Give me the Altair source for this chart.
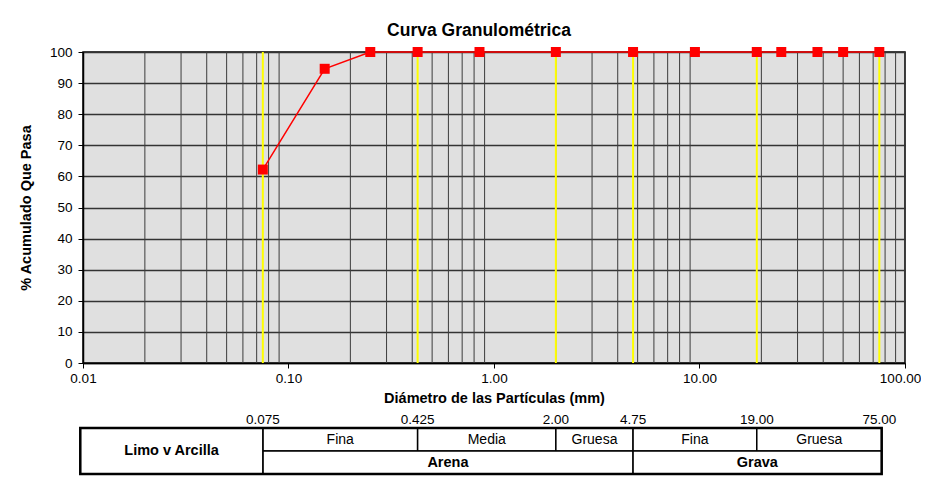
import math
import altair as alt
import pandas as pd

# ---------------- data ----------------
sieve_mm = [75, 50, 37.5, 25, 19, 9.5, 4.75, 2.0, 0.85, 0.425, 0.25, 0.15, 0.075]
passing = [100, 100, 100, 100, 100, 100, 100, 100, 100, 100, 100, 94.6, 62.2]

limits = [0.075, 0.425, 2.0, 4.75, 19.0, 75.0]
limit_labels = ["0.075", "0.425", "2.00", "4.75", "19.00", "75.00"]

x_ticks = [0.01, 0.1, 1, 10, 100]
y_ticks = list(range(0, 101, 10))
grid_x = [m * 10.0 ** k for k in range(-2, 2) for m in range(2, 10)]

sub_names = ["Fina", "Media", "Gruesa", "Fina", "Gruesa"]
sub_from = [0.075, 0.425, 2.0, 4.75, 19.0]
sub_to = [0.425, 2.0, 4.75, 19.0, 77.0]
group_names = ["Arena", "Grava"]
group_from = [0.075, 4.75]
group_to = [4.75, 77.0]
fine_name = ["Limo v Arcilla"]
fine_from = [0.0097]
fine_to = [0.075]

# table rows (in y-scale units, below the plot)
ROW_TOP, ROW_MID, ROW_BOT, LABEL_Y = -20.9, -28.3, -35.7, -18.2

FONT = "Liberation Sans"

xs = alt.Scale(type="log", domain=[0.01, 100], nice=False)
ys = alt.Scale(domain=[0, 100], nice=False, zero=False)
xaxis = alt.Axis(values=x_ticks, format=".2f", grid=False, tickSize=5,
                 labelPadding=3, labelFlush=False,
                 labelOffset={"condition": {"test": "datum.value >= 100",
                                            "value": -5}, "value": 0},
                 title="Diámetro de las Partículas (mm)", titlePadding=7)
yaxis = alt.Axis(values=y_ticks, grid=True, gridColor="#333333", gridWidth=1.5,
                 tickSize=5, labelPadding=6, title="% Acumulado Que Pasa",
                 titlePadding=16)


def X(f):
    return alt.X(f"{f}:Q", scale=xs, axis=xaxis)


def Y(f):
    return alt.Y(f"{f}:Q", scale=ys, axis=yaxis)


curve = pd.DataFrame({"d": sieve_mm, "p": passing})
grid_df = pd.DataFrame({"d": grid_x, "y0": 0, "y1": 100})
lim_df = pd.DataFrame({"d": limits, "y0": 0, "y1": 100, "lab": limit_labels,
                       "ly": LABEL_Y})

grid = alt.Chart(grid_df).mark_rule(color="#3c3c3c", strokeWidth=1).encode(
    x=X("d"), y=Y("y0"), y2="y1")
yellow = alt.Chart(lim_df).mark_rule(color="#ffff00", strokeWidth=2).encode(
    x=X("d"), y=Y("y0"), y2="y1")
line = alt.Chart(curve).mark_line(color="#ff0000", strokeWidth=1.5).encode(
    x=X("d"), y=Y("p"))
pts = alt.Chart(curve).mark_point(shape="square", filled=True, size=100,
                                  color="#ff0000", opacity=1).encode(
    x=X("d"), y=Y("p"))
lim_text = alt.Chart(lim_df).mark_text(font=FONT, fontSize=13.5, color="black",
                                       baseline="middle").encode(
    x=X("d"), y=Y("ly"), text="lab:N")

cells = pd.DataFrame({
    "name": sub_names + group_names + fine_name,
    "a": sub_from + group_from + fine_from,
    "b": sub_to + group_to + fine_to,
    "t": [ROW_TOP] * 5 + [ROW_MID] * 2 + [ROW_TOP],
    "u": [ROW_MID] * 5 + [ROW_BOT] * 2 + [ROW_BOT],
    "bold": [False] * 5 + [True] * 3,
})
cells["cx"] = [math.sqrt(a * b) for a, b in zip(cells["a"], cells["b"])]
cells["cy"] = (cells["t"] + cells["u"]) / 2

outer = pd.DataFrame({"a": [fine_from[0]], "b": [group_to[-1]],
                      "t": [ROW_TOP], "u": [ROW_BOT]})

rects = alt.Chart(cells).mark_rect(fill="white", stroke="black",
                                   strokeWidth=1.5).encode(
    x=X("a"), x2="b", y=Y("t"), y2="u")
frame = alt.Chart(outer).mark_rect(fill=None, stroke="black",
                                   strokeWidth=2.5, fillOpacity=0).encode(
    x=X("a"), x2="b", y=Y("t"), y2="u")
txt_reg = alt.Chart(cells[~cells["bold"]]).mark_text(
    font=FONT, fontSize=14, color="black", baseline="middle").encode(
    x=X("cx"), y=Y("cy"), text="name:N")
txt_bold = alt.Chart(cells[cells["bold"]]).mark_text(
    font=FONT, fontSize=14.5, fontWeight="bold", color="black",
    baseline="middle").encode(
    x=X("cx"), y=Y("cy"), text="name:N")

chart = alt.layer(grid, yellow, line, pts, lim_text, rects, frame,
                  txt_reg, txt_bold).properties(
    width=822, height=311,
    title=alt.TitleParams("Curva Granulométrica", font=FONT, fontSize=17.5,
                          fontWeight="bold", color="black", offset=6, dx=-15),
    autosize=alt.AutoSizeParams(type="none"),
    padding={"left": 75, "top": 44, "right": 16, "bottom": 113},
).configure_view(
    fill="#e0e0e0", stroke="black", strokeWidth=1.5
).configure_axis(
    labelFont=FONT, labelFontSize=13.5, labelColor="black",
    titleFont=FONT, titleFontSize=14.5, titleFontWeight="bold", titleColor="black",
    domainColor="black", tickColor="black", domainWidth=1.5
)

chart.save("out.html", embed_options={"renderer": "svg", "actions": False})
